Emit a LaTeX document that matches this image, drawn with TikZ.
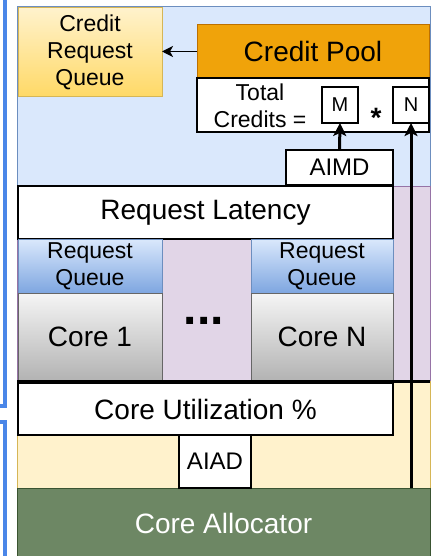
\documentclass[tikz,border=0pt]{standalone}
\usepackage{fontspec}
\setmainfont{Liberation Sans}
\usetikzlibrary{arrows.meta}
\definecolor{bluefill}{HTML}{DAE8FC}
\definecolor{blueline}{HTML}{6C8EBF}
\definecolor{bluedark}{HTML}{7EA6E0}
\definecolor{purpfill}{HTML}{E1D5E7}
\definecolor{purpline}{HTML}{9673A6}
\definecolor{yelfill}{HTML}{FFF2CC}
\definecolor{yeldark}{HTML}{FFD966}
\definecolor{yelline}{HTML}{D6B656}
\definecolor{orafill}{HTML}{F0A30A}
\definecolor{oraline}{HTML}{BD7000}
\definecolor{grntop}{HTML}{6D8764}
\definecolor{grnline}{HTML}{3A5431}
\definecolor{graytop}{HTML}{F5F5F5}
\definecolor{graybot}{HTML}{B3B3B3}
\definecolor{grayline}{HTML}{666666}
\definecolor{sideblue}{HTML}{4A86E8}
\newcommand{\mkbox}[6]{\node[#1, anchor=north west, minimum width={(#4-#2)*1pt}, minimum height={(#5-#3)*1pt}] (#6) at (#2,#3)}
\begin{document}
\begin{tikzpicture}[x=1pt,y=-1pt,
  region/.style={draw, line width=1pt, inner sep=0pt, outer sep=0pt},
  wbox/.style={draw=black, fill=white, line width=1.5pt, inner sep=0pt, outer sep=0pt},
  bigtxt/.style={font=\fontsize{28}{32}\selectfont},
  smalltxt/.style={font=\fontsize{23}{27}\selectfont, align=center},
  midtxt/.style={font=\fontsize{24}{28}\selectfont},
  tinytxt/.style={font=\fontsize{20}{22}\selectfont},
  thickarrow/.style={line width=3pt, -{Stealth[length=13pt,width=13pt,inset=3pt]}},
  thinarrow/.style={line width=1.5pt, -{Stealth[length=11pt,width=11pt,inset=3pt]}},
  sideline/.style={draw=sideblue, line width=3.5pt}
]
\useasboundingbox (0,0) rectangle (435,556);
% regions
\mkbox{region, draw=blueline, fill=bluefill}{17}{7}{430}{186}{topregion} {};
\mkbox{region, draw=purpline, fill=purpfill}{17}{186}{430}{381}{midregion} {};
\mkbox{region, draw=yelline, fill=yelfill}{17}{381}{430}{488}{lowregion} {};
\mkbox{region, draw=grnline, fill=grntop, text=white, bigtxt}{17}{488}{430}{558}{alloc} {Core Allocator};
% side lines
\draw[sideline] (5,-2) -- (5,406) -- (-2,406);
\draw[sideline] (-2,422) -- (5,422) -- (5,560);
% top part
\mkbox{region, draw=yelline, top color=yelfill, bottom color=yeldark, smalltxt}{18}{8}{162}{97}{crq} {Credit\\Request\\Queue};
\mkbox{region, draw=oraline, fill=orafill, bigtxt}{197}{25}{429}{78}{pool} {Credit Pool};
\mkbox{wbox}{197}{78}{429}{132}{total} {};
\node[smalltxt, anchor=center] (totaltxt) at (260,106) {Total\\Credits =};
\mkbox{wbox, tinytxt}{322}{87}{358}{123}{mbox} {M};
\mkbox{wbox, tinytxt}{393}{87}{429}{123}{nbox} {N};
\node[font=\fontsize{28}{32}\selectfont\bfseries, anchor=base, inner sep=0pt] (star) at (376,128) {*};
\mkbox{wbox, midtxt}{286}{150}{393}{185}{aimd} {AIMD};
% middle part
\mkbox{wbox, bigtxt}{18}{186}{393}{239}{latency} {Request Latency};
\mkbox{region, draw=blueline, top color=bluefill, bottom color=bluedark, smalltxt}{18}{239}{162}{293}{rq1} {Request\\Queue};
\mkbox{region, draw=grayline, top color=graytop, bottom color=graybot, bigtxt}{18}{293}{162}{380}{core1} {Core 1};
\mkbox{region, draw=blueline, top color=bluefill, bottom color=bluedark, smalltxt}{251}{239}{393}{293}{rqn} {Request\\Queue};
\mkbox{region, draw=grayline, top color=graytop, bottom color=graybot, bigtxt}{251}{293}{393}{380}{coren} {Core N};
\node[font=\fontsize{48}{50}\selectfont\bfseries, anchor=base, inner sep=0pt] (dots) at (204,324) {...};
% lower part
\coordinate (sepL) at (17,381);
\coordinate (sepR) at (430,381);
\draw[line width=3pt] (sepL) -- (sepR);
\mkbox{wbox, bigtxt}{18}{383}{393}{435}{util} {Core Utilization \%};
\mkbox{wbox, midtxt}{179}{435}{251}{488}{aiad} {AIAD};
% connectors
\draw[thinarrow] (pool.west) -- (pool.west -| crq.east);
\draw[thickarrow] (aimd.north) -- (mbox.south);
\draw[thickarrow] (nbox.south |- alloc.north) -- (nbox.south);
\end{tikzpicture}
\end{document}
